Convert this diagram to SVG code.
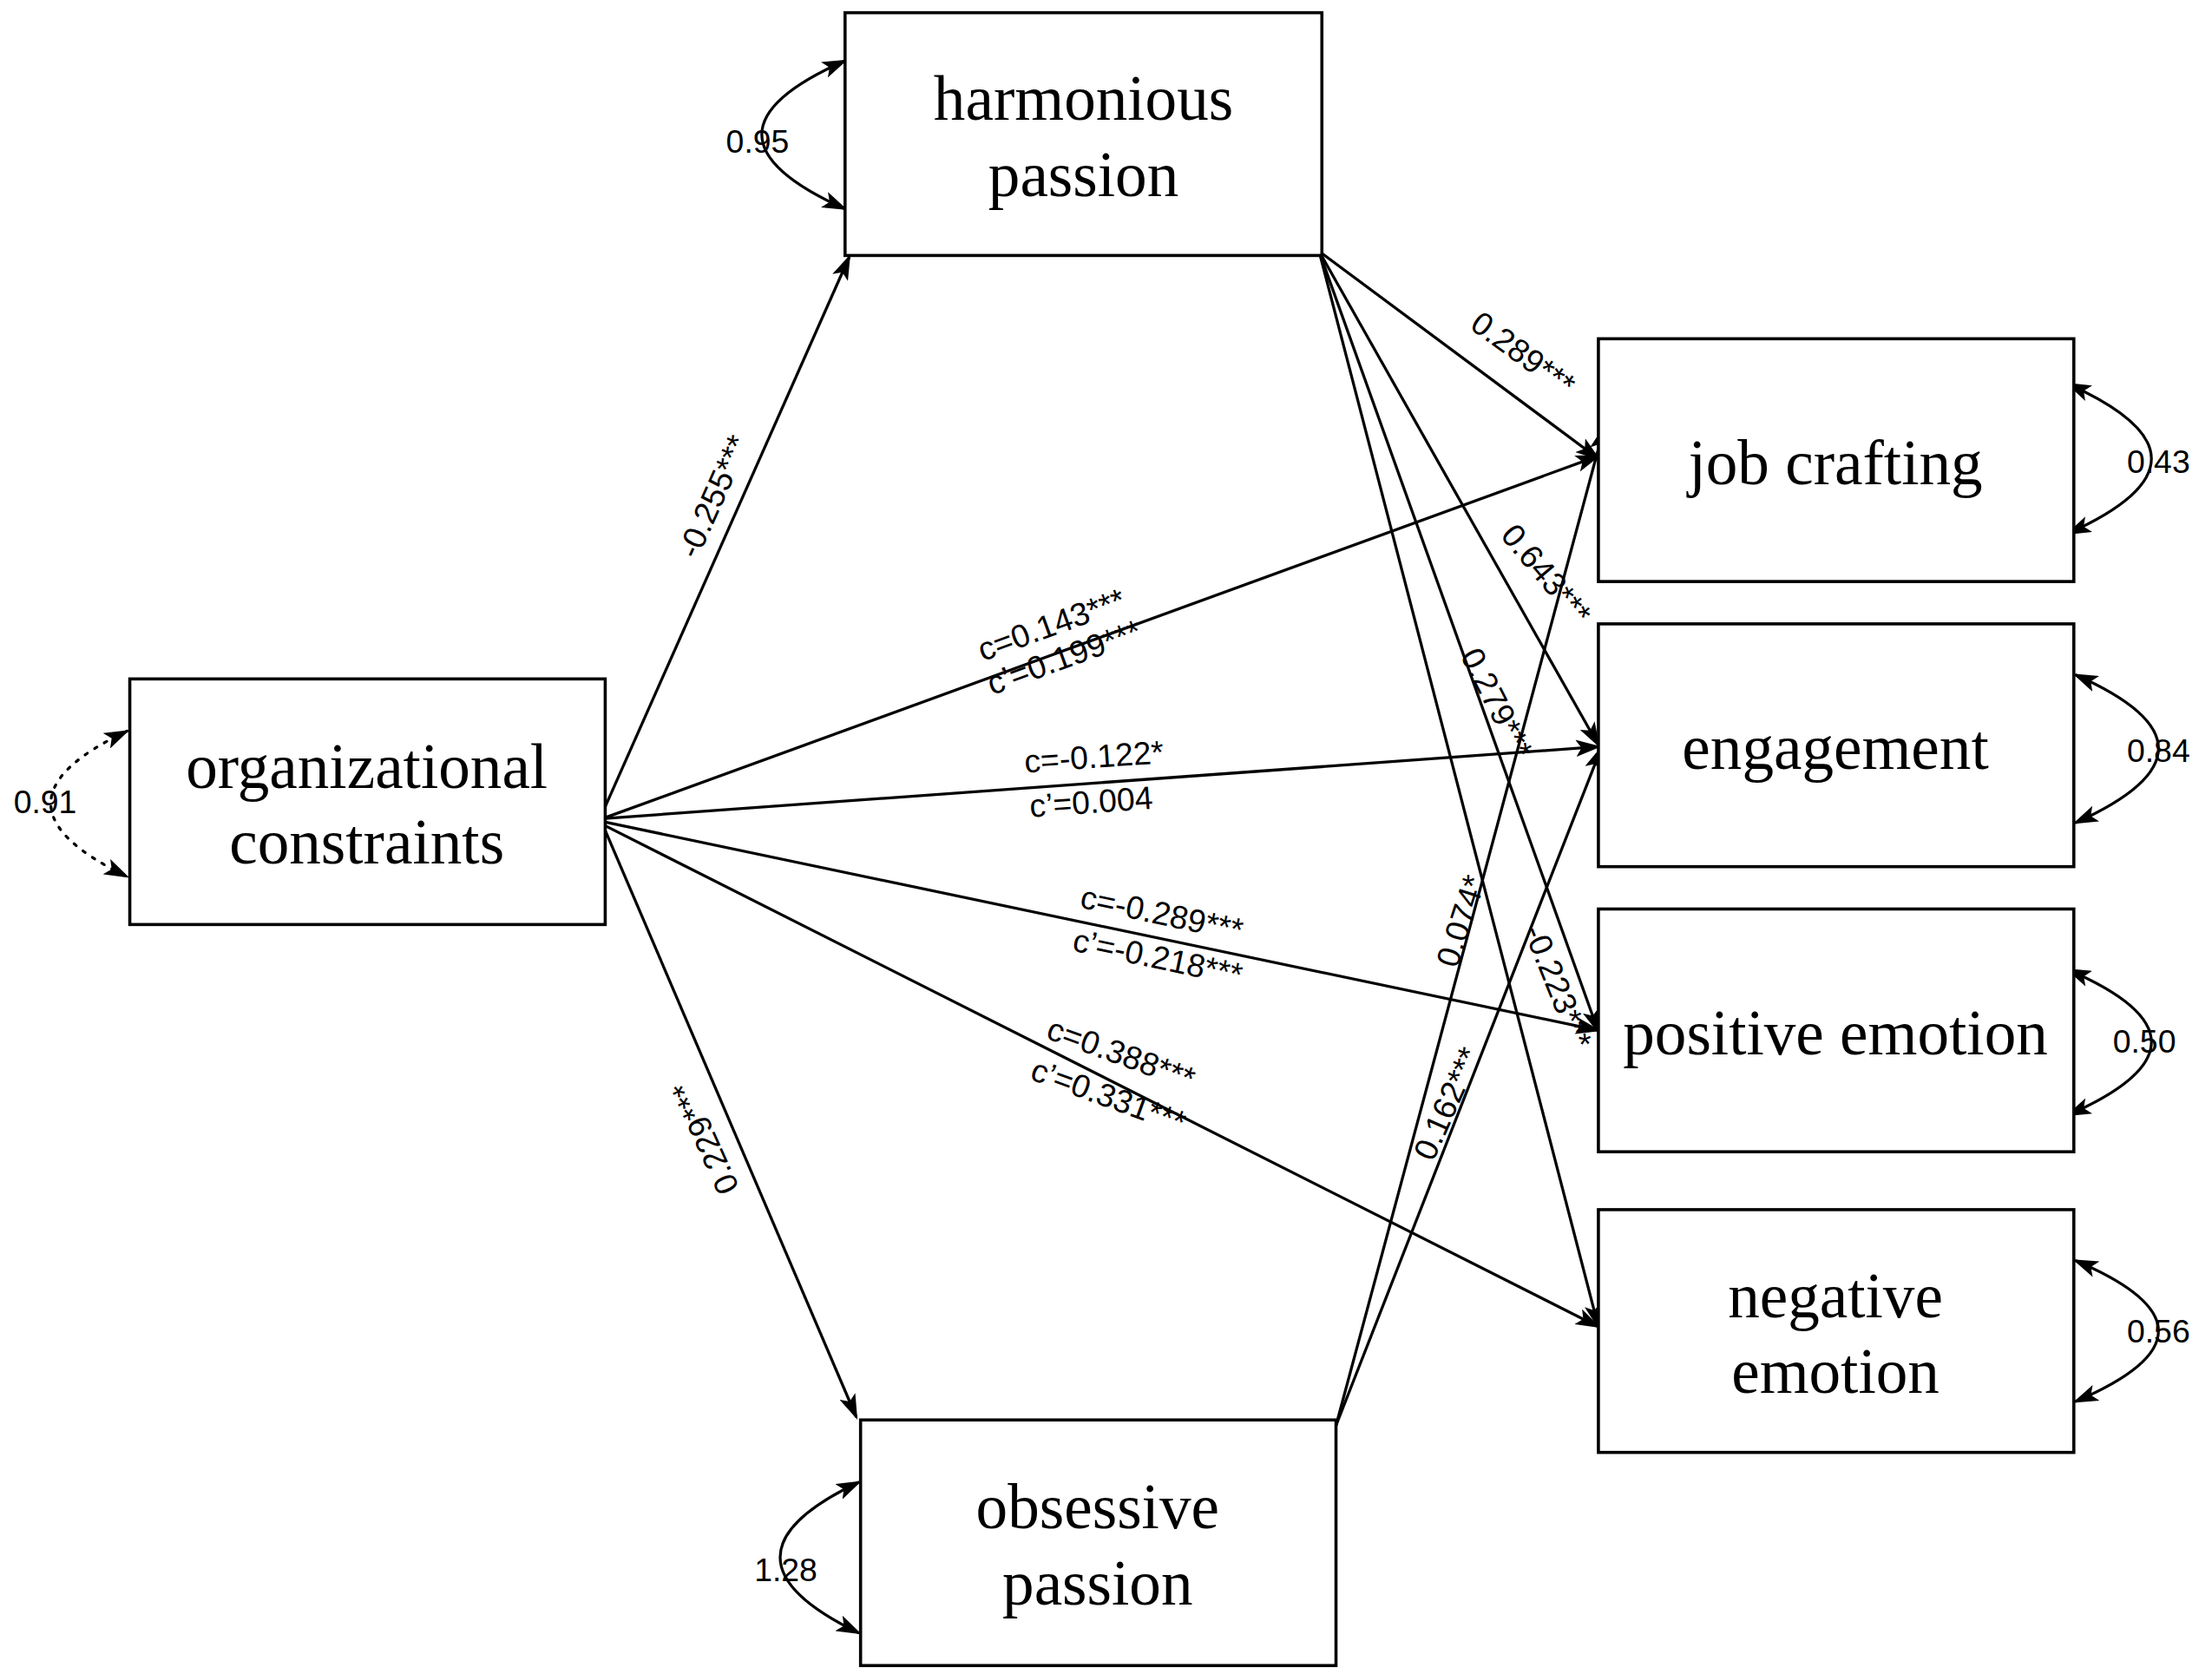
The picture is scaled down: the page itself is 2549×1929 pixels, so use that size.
<svg xmlns="http://www.w3.org/2000/svg" width="2549" height="1929" viewBox="0 0 2549 1929">
<defs>
<marker id="a" markerUnits="userSpaceOnUse" markerWidth="18" markerHeight="12" refX="16" refY="6" orient="auto-start-reverse" viewBox="0 0 18 12"><path d="M0,0 L18,6 L0,12 L4,6 Z" fill="#000"/></marker>
<style>
.box{fill:#fff;stroke:#000;stroke-width:2.2}
.nt{font-family:"Liberation Serif",serif;font-size:45px;text-anchor:middle}
.lb{font-family:"Liberation Sans",Arial,sans-serif;font-size:23px;text-anchor:middle}
.ln{fill:none;stroke:#000;stroke-width:2;marker-end:url(#a)}
.cv{fill:none;stroke:#000;stroke-width:2;marker-start:url(#a);marker-end:url(#a)}
</style>
</defs>
<rect width="2549" height="1929" fill="#fff"/>
<g transform="scale(1.6257,1.6265)">
<g id="connectors">
<path class="ln" d="M427,576 L602,182"/>
<path class="ln" d="M427,580 L1133,323"/>
<path class="ln" d="M427,580 L1133,529"/>
<path class="ln" d="M427,582 L1133,730"/>
<path class="ln" d="M427,584 L1133,940"/>
<path class="ln" d="M428,586 L607,1004"/>
<path class="ln" d="M935,178 L1133,325"/>
<path class="ln" d="M935,178 L1133,528"/>
<path class="ln" d="M935,178 L1133,731"/>
<path class="ln" d="M935,178 L1133,940"/>
<path class="ln" d="M947,1010 L1137,303"/>
<path class="ln" d="M947,1010 L1135,530"/>
<path class="cv" d="M599,43 Q481,95 599,148"/>
<path class="cv" d="M609,1050 Q497,1103 609,1157"/>
<path class="cv" d="M1466,272 Q1584,325 1466,378"/>
<path class="cv" d="M1471,478 Q1589,530 1471,583"/>
<path class="cv" d="M1466,687 Q1584,738 1466,790"/>
<path class="cv" d="M1471,893 Q1589,943 1471,993"/>
<path class="cv" d="M90,518 Q-18,569 90,621" stroke-dasharray="2,6" stroke-linecap="round"/>
<text class="lb" transform="translate(513,355) rotate(-66)">-0.255***</text>
<text class="lb" transform="translate(748,450) rotate(-20)">c=0.143***</text>
<text class="lb" transform="translate(757,473) rotate(-20)">c’=0.199***</text>
<text class="lb" transform="translate(776,544) rotate(-4)">c=-0.122*</text>
<text class="lb" transform="translate(774,576) rotate(-4)">c’=0.004</text>
<text class="lb" transform="translate(822,655) rotate(12)">c=-0.289***</text>
<text class="lb" transform="translate(819,686) rotate(12)">c’=-0.218***</text>
<text class="lb" transform="translate(792,754) rotate(20)">c=0.388***</text>
<text class="lb" transform="translate(783,784) rotate(20)">c’=0.331***</text>
<text class="lb" transform="translate(507,803) rotate(-114)">0.229***</text>
<text class="lb" transform="translate(1075,257) rotate(36)">0.289***</text>
<text class="lb" transform="translate(1090,412) rotate(50)">0.643***</text>
<text class="lb" transform="translate(1054,502) rotate(63)">0.279***</text>
<text class="lb" transform="translate(1097,702) rotate(68)">-0.223***</text>
<text class="lb" transform="translate(1043,655) rotate(-72)">0.074*</text>
<text class="lb" transform="translate(1033,785) rotate(-66)">0.162***</text>
<text class="lb" x="537" y="108">0.95</text>
<text class="lb" x="557" y="1120">1.28</text>
<text class="lb" x="1530" y="335">0.43</text>
<text class="lb" x="1530" y="540">0.84</text>
<text class="lb" x="1520" y="746">0.50</text>
<text class="lb" x="1530" y="951">0.56</text>
<text class="lb" x="32" y="576">0.91</text>
</g>
<g id="org"><rect class="box" x="92" y="481" width="337" height="174"/><text class="nt" x="260" y="558">organizational</text><text class="nt" x="260" y="612">constraints</text></g>
<g id="hp"><rect class="box" x="599" y="9" width="338" height="172"/><text class="nt" x="768" y="85">harmonious</text><text class="nt" x="768" y="139">passion</text></g>
<g id="op"><rect class="box" x="610" y="1006" width="337" height="174"/><text class="nt" x="778" y="1083">obsessive</text><text class="nt" x="778" y="1137">passion</text></g>
<g id="jc"><rect class="box" x="1133" y="240" width="337" height="172"/><text class="nt" x="1301" y="343">job crafting</text></g>
<g id="eng"><rect class="box" x="1133" y="442" width="337" height="172"/><text class="nt" x="1301" y="545">engagement</text></g>
<g id="pos"><rect class="box" x="1133" y="644" width="337" height="172"/><text class="nt" x="1301" y="747">positive emotion</text></g>
<g id="neg"><rect class="box" x="1133" y="857" width="337" height="172"/><text class="nt" x="1301" y="933">negative</text><text class="nt" x="1301" y="987">emotion</text></g>
</g>
</svg>
